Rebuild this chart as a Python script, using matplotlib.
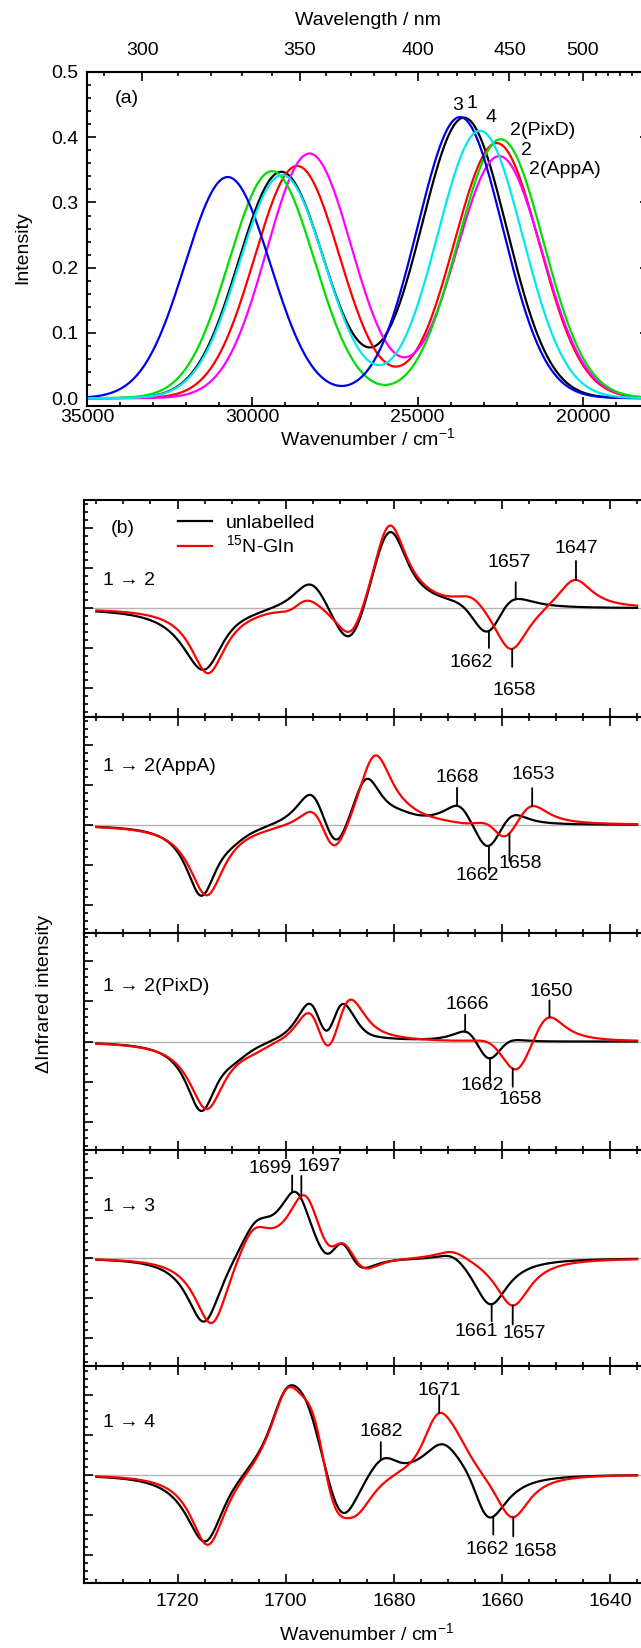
import numpy as np
import matplotlib
matplotlib.use('Agg')
import matplotlib.pyplot as plt
from matplotlib.ticker import MultipleLocator, FixedLocator

plt.rcParams['font.family'] = ['Liberation Sans', 'DejaVu Sans']
plt.rcParams['font.size'] = 14
plt.rcParams['mathtext.fontset'] = 'custom'
plt.rcParams['mathtext.rm'] = 'Liberation Sans'
plt.rcParams['axes.linewidth'] = 1.5

# ---- (a) UV/vis: two Gaussian bands per state (wavenumber / cm-1, intensity)
uv_states = ['1', '2', '2(AppA)', '2(PixD)', '3', '4']
uv_colors = ['black', '#ff0000', '#ff00ff', '#00dd00', '#0000ee', '#00e8f0']
uv_pos_high = [29123, 28642, 28270, 29408, 30744, 29099]
uv_amp_high = [0.347, 0.356, 0.375, 0.348, 0.339, 0.342]
uv_pos_low = [23596, 22607, 22529, 22486, 23717, 23112]
uv_amp_low = [0.430, 0.391, 0.371, 0.397, 0.431, 0.410]
uv_sigma = 1290
uv_label_x = [23527, 21862, 21620, 22205, 23960, 22951]
uv_label_y = [0.452, 0.380, 0.351, 0.410, 0.448, 0.431]

# ---- (b) IR difference spectra: Lorentzian bands (position / cm-1, signed height), half width
b12_unl_pos = [1715.05, 1711.00, 1697.50, 1695.45, 1688.00, 1680.65, 1678.00, 1666.50, 1662.40, 1659.25]
b12_unl_amp = [-0.86, 0.12, -0.16, 0.62, -0.86, 1.42, -0.29, 0.23, -0.83, 0.51]
b12_unl_hw = 5.0
b12_lab_pos = [1714.35, 1701.50, 1698.75, 1696.45, 1687.80, 1680.85, 1674.75, 1665.50, 1658.35, 1646.55]
b12_lab_amp = [-0.82, 0.04, -0.18, 0.28, -0.58, 1.17, 0.02, 0.20, -0.62, 0.40]
b12_lab_hw = 4.0

bA_unl_pos = [1715.60, 1709.75, 1695.25, 1694.05, 1690.70, 1685.15, 1678.50, 1671.50, 1667.80, 1662.65, 1658.25]
bA_unl_amp = [-0.88, -0.07, 0.45, 0.10, -0.58, 0.67, 0.05, 0.01, 0.32, -0.47, 0.24]
bA_unl_hw = 3.5
bA_lab_pos = [1714.60, 1704.00, 1697.75, 1694.35, 1691.30, 1683.50, 1677.50, 1666.00, 1661.75, 1659.80, 1654.85]
bA_lab_amp = [-0.89, -0.01, -0.04, 0.53, -0.75, 0.97, 0.02, -0.04, 0.29, -0.52, 0.35]
bA_lab_hw = 4.0

bP_unl_pos = [1715.60, 1709.25, 1699.00, 1695.10, 1692.30, 1690.00, 1685.25, 1666.05, 1662.50, 1659.00]
bP_unl_amp = [-0.86, -0.10, -0.03, 0.77, -0.89, 0.86, -0.07, 0.27, -0.41, 0.13]
bP_unl_hw = 3.5
bP_lab_pos = [1714.60, 1706.00, 1698.50, 1694.90, 1692.35, 1688.65, 1684.00, 1662.00, 1657.25, 1651.70]
bP_lab_amp = [-0.85, -0.06, -0.07, 0.93, -1.12, 0.87, -0.03, 0.13, -0.56, 0.46]
bP_lab_hw = 4.0

b3_unl_pos = [1715.05, 1705.50, 1698.05, 1691.65, 1690.00, 1686.90, 1669.00, 1662.15]
b3_unl_amp = [-0.89, 0.42, 0.87, -0.86, 1.01, -0.43, 0.16, -0.62]
b3_unl_hw = 4.0
b3_lab_pos = [1713.60, 1706.00, 1696.35, 1691.50, 1689.80, 1686.15, 1669.10, 1658.00]
b3_lab_amp = [-0.94, 0.45, 0.90, -0.73, 0.76, -0.36, 0.14, -0.61]
b3_lab_hw = 4.0

b4_unl_pos = [1714.80, 1711.00, 1700.00, 1702.55, 1696.00, 1689.70, 1681.65, 1679.50, 1670.90, 1665.00, 1663.10]
b4_unl_amp = [-0.95, 0.06, 0.95, -0.11, 0.71, -0.90, 0.41, -0.16, 0.44, 0.51, -1.04]
b4_unl_hw = 4.5
b4_lab_pos = [1714.35, 1702.00, 1699.75, 1694.75, 1692.00, 1690.95, 1686.75, 1675.50, 1671.85, 1668.50, 1658.15]
b4_lab_amp = [-0.95, 0.01, 0.95, 0.94, -0.23, -0.64, -0.40, -0.11, 0.75, 0.24, -0.61]
b4_lab_hw = 4.0

panel_names = ['1 \u2192 2', '1 \u2192 2(AppA)', '1 \u2192 2(PixD)', '1 \u2192 3', '1 \u2192 4']
unl_bands = [(b12_unl_pos, b12_unl_amp, b12_unl_hw), (bA_unl_pos, bA_unl_amp, bA_unl_hw),
             (bP_unl_pos, bP_unl_amp, bP_unl_hw), (b3_unl_pos, b3_unl_amp, b3_unl_hw),
             (b4_unl_pos, b4_unl_amp, b4_unl_hw)]
lab_bands = [(b12_lab_pos, b12_lab_amp, b12_lab_hw), (bA_lab_pos, bA_lab_amp, bA_lab_hw),
             (bP_lab_pos, bP_lab_amp, bP_lab_hw), (b3_lab_pos, b3_lab_amp, b3_lab_hw),
             (b4_lab_pos, b4_lab_amp, b4_lab_hw)]

# marked bands: (wavenumber, text, curve, up=1 / down=-1)
marks = [
    [(1662.4, '1662', 'k', -1), (1658.1, '1658', 'r', -1), (1657.45, '1657', 'k', 1), (1646.3, '1647', 'r', 1)],
    [(1668.3, '1668', 'k', 1), (1654.4, '1653', 'r', 1), (1662.4, '1662', 'k', -1), (1658.6, '1658', 'r', -1)],
    [(1666.8, '1666', 'k', 1), (1651.2, '1650', 'r', 1), (1662.2, '1662', 'k', -1), (1658.0, '1658', 'r', -1)],
    [(1698.8, '1699', 'k', 1), (1697.1, '1697', 'r', 1), (1661.9, '1661', 'k', -1), (1658.0, '1657', 'r', -1)],
    [(1682.4, '1682', 'k', 1), (1671.6, '1671', 'r', 1), (1661.6, '1662', 'k', -1), (1657.9, '1658', 'r', -1)],
]
# layout of the marks in pixels: line length, text dx, text dy
mark_layout = [
    [(17, -18, 32), (18, 2, 42), (17, -6, 37), (19, 0, 31)],
    [(18, 0, 28), (18, 1, 32), (27, -12, 30), (28, 11, 30)],
    [(17, 2, 27), (17, 2, 26), (23, -8, 27), (18, 8, 31)],
    [(17, -22, 24), (20, 18, 29), (17, -15, 27), (19, 12, 28)],
    [(18, 0, 29), (18, 0, 23), (18, -6, 33), (19, 22, 34)],
]


def lorentz_sum(x, pos, amp, hw):
    y = np.zeros_like(x)
    for c, a in zip(pos, amp):
        y += a * hw**2 / ((x - c)**2 + hw**2)
    return y


def gauss_sum(x, pos, amp, s):
    y = np.zeros_like(x)
    for c, a in zip(pos, amp):
        y += a * np.exp(-(x - c)**2 / (2 * s**2))
    return y


def k2nm(x):
    x = np.array(x, float)
    out = np.full_like(x, np.inf)
    nz = np.abs(x) > 1e-9
    out[nz] = 1e7 / x[nz]
    return out


W, H = 641, 1648
fig = plt.figure(figsize=(W / 100, H / 100), dpi=100)

# ---------------- panel (a)
axa = fig.add_axes([87 / W, 1 - 406 / H, 562 / W, 334 / H])
xa = np.linspace(35000, 18000, 1500)
for i, st in enumerate(uv_states):
    ya = gauss_sum(xa, [uv_pos_high[i], uv_pos_low[i]], [uv_amp_high[i], uv_amp_low[i]], uv_sigma)
    axa.plot(xa, ya, color=uv_colors[i], lw=1.6)
    axa.text(uv_label_x[i], uv_label_y[i], st, ha='left', va='center', fontsize=14)
axa.set_xlim(35000, 18000)
axa.set_ylim(-0.012, 0.5)
axa.xaxis.set_major_locator(MultipleLocator(5000))
axa.xaxis.set_minor_locator(MultipleLocator(1000))
axa.yaxis.set_major_locator(MultipleLocator(0.1))
axa.yaxis.set_minor_locator(MultipleLocator(0.02))
axa.yaxis.set_major_formatter(plt.FormatStrFormatter('%.1f'))
axa.tick_params(which='both', direction='in', right=True, top=False, width=1.2)
axa.tick_params(which='major', length=6.5)
axa.tick_params(which='minor', length=3.2)
axa.tick_params(axis='x', pad=2.5)
axa.tick_params(axis='y', pad=6)
axa.text(34150, 0.46, '(a)', ha='left', va='center', fontsize=14)

sec = axa.secondary_xaxis('top', functions=(k2nm, k2nm))
sec.xaxis.set_major_locator(FixedLocator([300, 350, 400, 450, 500]))
sec.xaxis.set_minor_locator(FixedLocator(np.arange(290, 560, 10)))
sec.tick_params(which='both', direction='in', width=1.2, pad=9)
sec.tick_params(which='major', length=6.5)
sec.tick_params(which='minor', length=3.2)

fig.text(368 / W, 1 - 20.5 / H, 'Wavelength / nm', ha='center', va='center', fontsize=14)
fig.text(368 / W, 1 - 439 / H, 'Wavenumber / cm$^{-1}$', ha='center', va='center', fontsize=14)
fig.text(22.5 / W, 1 - 248 / H, 'Intensity', ha='center', va='center', rotation=90, fontsize=14)

# ---------------- panel (b)
xb = np.linspace(1735, 1635, 1001)
tops = [500, 716.6, 933.2, 1149.8, 1366.4]
ph = 216.6
px2pt = 0.72
for i in range(5):
    ax = fig.add_axes([84 / W, 1 - (tops[i] + ph) / H, 565.5 / W, ph / H])
    ax.axhline(0, color='#b4b4b4', lw=1.0, zorder=1)
    yk = lorentz_sum(xb, *unl_bands[i])
    yr = lorentz_sum(xb, *lab_bands[i])
    lk, = ax.plot(xb, yk, color='black', lw=1.6, zorder=3)
    lr, = ax.plot(xb, yr, color='#ff0000', lw=1.6, zorder=3)
    ax.set_xlim(1737.3, 1632.7)
    ax.set_ylim(-1.352, 1.352)
    ax.xaxis.set_major_locator(MultipleLocator(20))
    ax.xaxis.set_minor_locator(MultipleLocator(5))
    ax.yaxis.set_major_locator(MultipleLocator(0.5))
    ax.yaxis.set_minor_locator(MultipleLocator(0.1))
    ax.tick_params(which='both', direction='in', top=True, labelleft=False, width=1.2)
    ax.tick_params(which='major', length=6.5)
    ax.tick_params(which='minor', length=3.2)
    ax.tick_params(axis='x', pad=7, labelbottom=(i == 4))
    ypos = [0.627, 0.77, 0.756, 0.74, 0.74][i]
    ax.text(0.034, ypos, panel_names[i], transform=ax.transAxes, ha='left', va='center', fontsize=14)
    for (nu, lab, which, side), (L, dx, dy) in zip(marks[i], mark_layout[i]):
        y0 = np.interp(nu, xb[::-1], (yk if which == 'k' else yr)[::-1])
        ax.annotate('', xy=(nu, y0), xytext=(0, side * L * px2pt), textcoords='offset points',
                    arrowprops=dict(arrowstyle='-', lw=1.3, color='black', shrinkA=0, shrinkB=0))
        ax.annotate(lab, xy=(nu, y0), xytext=(dx * px2pt, side * dy * px2pt), textcoords='offset points',
                    ha='center', va='center', fontsize=14)
    if i == 0:
        ax.text(0.047, 0.87, '(b)', transform=ax.transAxes, ha='left', va='center', fontsize=14)
        ax.legend([lk, lr], ['unlabelled', '$^{15}$N-Gln'], loc='upper left', bbox_to_anchor=(0.166, 0.935),
                  frameon=False, handlelength=1.75, handletextpad=0.7, labelspacing=0.15,
                  borderpad=0, borderaxespad=0, fontsize=14)

fig.text(367 / W, 1 - 1634 / H, 'Wavenumber / cm$^{-1}$', ha='center', va='center', fontsize=14)
fig.text(45 / W, 1 - 994 / H, '\u0394Infrared intensity', ha='center', va='center', rotation=90, fontsize=14)

fig.savefig('out.png', dpi=100)
